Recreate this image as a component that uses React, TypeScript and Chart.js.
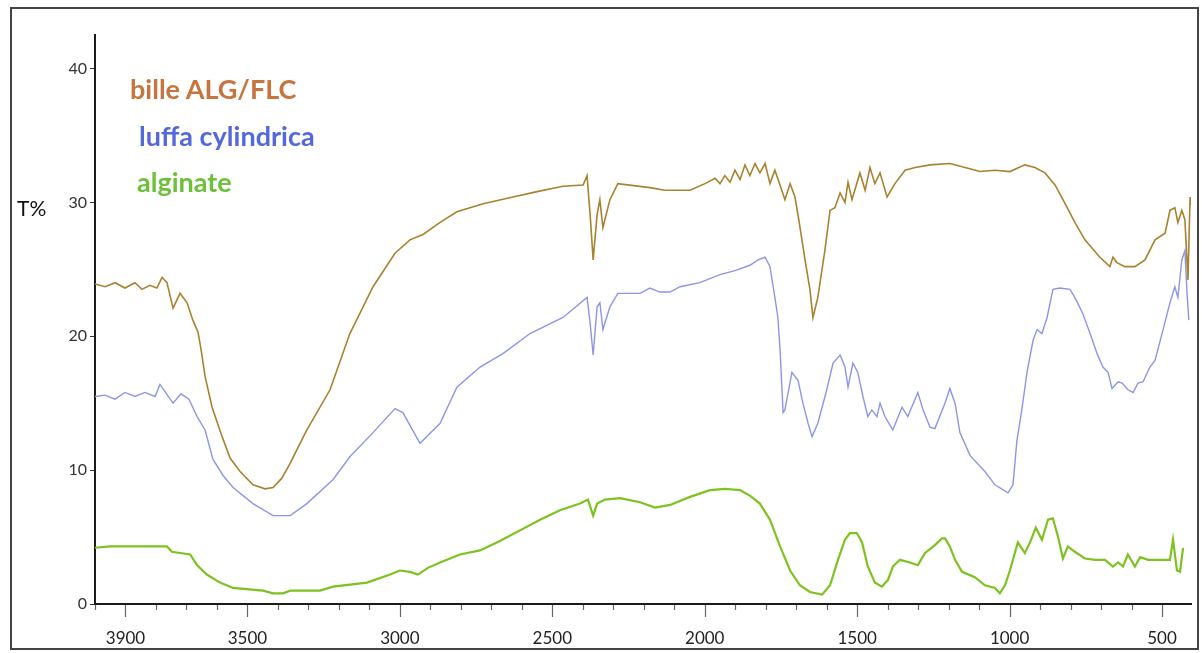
import React, { useEffect, useRef } from "react";
import { Chart, registerables } from "chart.js";

Chart.register(...registerables);

// Wavenumbers (cm-1) and transmittance (T%) for each spectrum
const billeWavenumber = [
  4000, 3967, 3934, 3902, 3869, 3846, 3820, 3797, 3780, 3764, 3744, 3721, 3698, 3679, 3662, 3652, 3639, 3616,
  3583, 3557, 3524, 3482, 3442, 3416, 3387, 3360, 3305, 3229, 3164, 3088, 3016, 2967, 2924, 2868, 2813, 2727,
  2629, 2550, 2465, 2399, 2386, 2376, 2366, 2353, 2344, 2334, 2311, 2285, 2180, 2131, 2048, 1999, 1966, 1950,
  1934, 1917, 1901, 1884, 1868, 1852, 1835, 1819, 1802, 1786, 1770, 1753, 1737, 1720, 1704, 1688, 1671, 1655,
  1645, 1629, 1606, 1589, 1573, 1556, 1540, 1530, 1517, 1491, 1474, 1458, 1442, 1425, 1402, 1376, 1343, 1310,
  1261, 1196, 1146, 1097, 1048, 999, 950, 917, 884, 851, 818, 786, 753, 704, 671, 661, 648, 622, 589, 556, 523,
  490, 474, 458, 448, 435, 425, 415, 408, 405,
];
const billeT = [
  23.9, 23.7, 24.0, 23.6, 24.0, 23.5, 23.8, 23.6, 24.4, 24.0, 22.1, 23.2, 22.5, 21.2, 20.3, 19.0, 17.0, 14.7,
  12.5, 10.9, 9.9, 8.9, 8.6, 8.7, 9.4, 10.5, 13.0, 16.0, 20.2, 23.7, 26.2, 27.2, 27.6, 28.5, 29.3, 29.9,
  30.4, 30.8, 31.2, 31.3, 32.0, 29.1, 25.7, 29.1, 30.2, 28.1, 30.2, 31.4, 31.1, 30.9, 30.9, 31.4, 31.8, 31.4,
  32.0, 31.5, 32.4, 31.7, 32.8, 32.0, 32.9, 32.2, 32.9, 31.4, 32.4, 31.3, 30.2, 31.4, 30.4, 28.2, 25.7, 23.5,
  21.4, 22.9, 26.4, 29.4, 29.6, 30.7, 30.0, 31.5, 30.2, 32.2, 30.9, 32.6, 31.4, 32.2, 30.4, 31.4, 32.4, 32.6,
  32.8, 32.9, 32.6, 32.3, 32.4, 32.3, 32.8, 32.6, 32.2, 31.3, 29.9, 28.5, 27.2, 25.9, 25.2, 25.9, 25.5, 25.2,
  25.2, 25.7, 27.2, 27.7, 29.4, 29.6, 28.5, 29.4, 28.7, 24.2, 30.4, 29.8,
];

const luffaWavenumber = [
  4000, 3967, 3934, 3902, 3869, 3836, 3803, 3787, 3744, 3718, 3692, 3665, 3639, 3613, 3580, 3547, 3482,
  3416, 3360, 3305, 3219, 3164, 3088, 3016, 2990, 2934, 2868, 2813, 2737, 2662, 2573, 2465, 2386, 2376, 2366,
  2353, 2344, 2334, 2311, 2285, 2212, 2180, 2147, 2114, 2081, 2016, 1950, 1901,
  1852, 1825, 1802, 1786, 1770, 1760, 1753, 1743, 1737, 1714, 1694, 1678, 1661, 1648, 1629, 1602, 1579, 1556,
  1540, 1530, 1514, 1498, 1481, 1465, 1452, 1435, 1425, 1409, 1383, 1353, 1334, 1301, 1284, 1261, 1245, 1212,
  1196, 1179, 1163, 1130, 1081, 1048, 1005, 989, 976, 960, 943, 923, 910, 894, 877, 858, 835, 802, 786, 760,
  736, 713, 694, 677, 664, 644, 631, 612, 595, 579, 562, 540, 523, 500, 474, 458, 448, 435, 425, 418, 412,
];
const luffaT = [
  15.5, 15.6, 15.3, 15.8, 15.5, 15.8, 15.5, 16.4, 15.0, 15.7, 15.3, 14.0, 13.0, 10.8, 9.6, 8.7, 7.5,
  6.6, 6.6, 7.5, 9.3, 11.0, 12.8, 14.6, 14.3, 12.0, 13.5, 16.2, 17.7, 18.7, 20.2, 21.4, 22.9, 21.0, 18.6,
  22.2, 22.5, 20.5, 22.2, 23.2, 23.2, 23.6, 23.3, 23.3, 23.7, 24.0, 24.6, 24.9,
  25.3, 25.7, 25.9, 25.2, 22.9, 21.4, 19.0, 14.3, 14.5, 17.3, 16.7, 15.0, 13.5, 12.5, 13.5, 15.8, 18.0, 18.6,
  17.7, 16.2, 18.0, 17.3, 15.5, 14.0, 14.5, 14.0, 15.0, 14.0, 13.0, 14.7, 14.0, 15.8, 14.5, 13.2, 13.1, 15.0,
  16.1, 15.0, 12.8, 11.1, 9.9, 8.9, 8.3, 8.9, 12.2, 14.5, 17.3, 19.7, 20.5, 20.2, 21.4, 23.5, 23.6, 23.5, 22.9, 21.7,
  20.2, 18.7, 17.7, 17.3, 16.1, 16.6, 16.5, 16.0, 15.8, 16.5, 16.6, 17.7, 18.2, 20.2, 22.5, 23.7, 22.9, 25.7, 26.4, 23.2, 21.2,
];

const alginateWavenumber = [
  4000, 3951, 3885, 3820, 3764, 3748, 3688, 3665, 3633, 3590, 3547, 3449, 3416, 3383, 3360, 3262, 3219, 3108,
  3032, 3000, 2967, 2941, 2908, 2868, 2803, 2737, 2672, 2606, 2540, 2475, 2409, 2383, 2366, 2353, 2327, 2278,
  2212, 2163, 2114, 2048, 1983, 1934, 1884, 1852, 1819, 1786, 1753, 1720, 1688, 1655, 1615, 1589, 1563, 1540,
  1524, 1501, 1484, 1465, 1442, 1419, 1399, 1383, 1360, 1327, 1301, 1278, 1245, 1222, 1212, 1196, 1179, 1156,
  1114, 1081, 1048, 1032, 1015, 999, 973, 950, 933, 914, 894, 874, 858, 841, 825, 809, 786, 753, 720, 687, 661,
  644, 628, 612, 589, 572, 546, 523, 474, 464, 451, 441, 431,
];
const alginateT = [
  4.2, 4.3, 4.3, 4.3, 4.3, 3.9, 3.7, 2.9, 2.2, 1.6, 1.2, 1.0, 0.8, 0.8, 1.0, 1.0, 1.3, 1.6,
  2.2, 2.5, 2.4, 2.2, 2.7, 3.1, 3.7, 4.0, 4.7, 5.5, 6.3, 7.0, 7.5, 7.8, 6.6, 7.5, 7.8, 7.9,
  7.6, 7.2, 7.4, 8.0, 8.5, 8.6, 8.5, 8.1, 7.5, 6.3, 4.3, 2.5, 1.4, 0.9, 0.7, 1.4, 3.3, 4.8,
  5.3, 5.3, 4.6, 2.8, 1.6, 1.3, 1.8, 2.8, 3.3, 3.1, 2.9, 3.8, 4.4, 4.9, 4.9, 4.3, 3.3, 2.4,
  2.0, 1.4, 1.2, 0.8, 1.4, 2.5, 4.6, 3.8, 4.6, 5.7, 4.8, 6.3, 6.4, 5.0, 3.4, 4.3, 3.9, 3.4, 3.3, 3.3, 2.8,
  3.1, 2.8, 3.7, 2.8, 3.5, 3.3, 3.3, 3.3, 4.8, 2.5, 2.4, 4.2,
];

const seriesNames = ["bille ALG/FLC", "luffa cylindrica", "alginate"];
const lineColors = ["#a8822e", "#8c95ea", "#7dc21f"];
const labelColors = ["#c8743e", "#5468dd", "#6cc03a"];

const xLabelValues = [3900, 3500, 3000, 2500, 2000, 1500, 1000, 500];
const yTickValues = [0, 10, 20, 30, 40];
const yAxisTitle = "T%";

const toPoints = (xs: number[], ys: number[]) => xs.map((x, i) => ({ x, y: ys[i] }));

// Minor (every 100 cm-1) and major (labelled) tick marks under the x axis
const xTickMarks = {
  id: "xTickMarks",
  afterDraw(chart: any) {
    const sc = chart.scales.x;
    const ctx = chart.ctx;
    ctx.save();
    ctx.strokeStyle = "#666";
    ctx.lineWidth = 1.2;
    for (let v = 500; v <= 4000; v += 100) {
      const px = Math.round(sc.getPixelForValue(v)) + 0.5;
      const major = xLabelValues.includes(v);
      ctx.beginPath();
      ctx.moveTo(px, sc.top + 1);
      ctx.lineTo(px, sc.top + (major ? 13 : 6));
      ctx.stroke();
    }
    ctx.restore();
  },
};

export default function App() {
  const canvasRef = useRef<HTMLCanvasElement | null>(null);

  useEffect(() => {
    document.body.style.margin = "0";
    const canvas = canvasRef.current;
    if (!canvas) return;
    const data = [
      toPoints(billeWavenumber, billeT),
      toPoints(luffaWavenumber, luffaT),
      toPoints(alginateWavenumber, alginateT),
    ];
    const chart = new Chart(canvas, {
      type: "line",
      data: {
        datasets: data.map((d, i) => ({
          label: seriesNames[i],
          data: d,
          borderColor: lineColors[i],
          borderWidth: i === 2 ? 2.2 : i === 1 ? 1.4 : 1.6,
          pointRadius: 0,
          tension: 0,
          fill: false,
        })),
      },
      options: {
        animation: false,
        responsive: false,
        devicePixelRatio: 1,
        events: [],
        layout: { padding: { left: 0, right: 11, top: 35, bottom: 0 } },
        plugins: { legend: { display: false }, tooltip: { enabled: false } },
        scales: {
          x: {
            type: "linear",
            reverse: true,
            min: 405,
            max: 4000,
            afterFit: (scale: any) => {
              scale.height = 49;
            },
            afterBuildTicks: (scale: any) => {
              scale.ticks = xLabelValues.map((value) => ({ value }));
            },
            grid: { drawOnChartArea: false, drawTicks: false },
            border: { display: true, color: "#1a1a1a", width: 2 },
            ticks: {
              autoSkip: false,
              maxRotation: 0,
              padding: 24,
              color: "#222",
              font: { family: "Lato", size: 17 },
              callback: (v: any) => String(v),
            },
          },
          y: {
            type: "linear",
            min: 0,
            max: 42.5,
            afterFit: (scale: any) => {
              scale.width = 95;
            },
            afterBuildTicks: (scale: any) => {
              scale.ticks = yTickValues.map((value) => ({ value }));
            },
            grid: { drawOnChartArea: false, drawTicks: true, tickLength: 5, tickColor: "#333" },
            border: { display: true, color: "#1a1a1a", width: 2 },
            ticks: {
              padding: 3,
              color: "#333",
              font: { family: "Lato", size: 16 },
              callback: (v: any) => String(v),
            },
          },
        },
      },
      plugins: [xTickMarks],
    });
    return () => chart.destroy();
  }, []);

  const legendPos = [
    { left: 130, baseline: 100 },
    { left: 139, baseline: 147 },
    { left: 137, baseline: 193 },
  ];

  return (
    <div style={{ position: "relative", width: 1202, height: 653, background: "#fff", overflow: "hidden" }}>
      <canvas ref={canvasRef} width={1202} height={653} style={{ position: "absolute", left: 0, top: 0 }} />
      <div
        style={{
          position: "absolute",
          left: 10,
          top: 7,
          width: 1189,
          height: 643,
          border: "2px solid #444",
          boxSizing: "border-box",
          pointerEvents: "none",
        }}
      />
      <div
        style={{
          position: "absolute",
          left: 17,
          top: 215 - 18,
          fontFamily: "Lato, sans-serif",
          fontSize: 21,
          lineHeight: "21px",
          color: "#111",
        }}
      >
        {yAxisTitle}
      </div>
      {seriesNames.map((name, i) => (
        <div
          key={name}
          style={{
            position: "absolute",
            left: legendPos[i].left,
            top: legendPos[i].baseline - 25,
            fontFamily: "Lato, sans-serif",
            fontWeight: 700,
            fontSize: 27,
            lineHeight: "28px",
            color: labelColors[i],
            whiteSpace: "nowrap",
          }}
        >
          {name}
        </div>
      ))}
    </div>
  );
}
